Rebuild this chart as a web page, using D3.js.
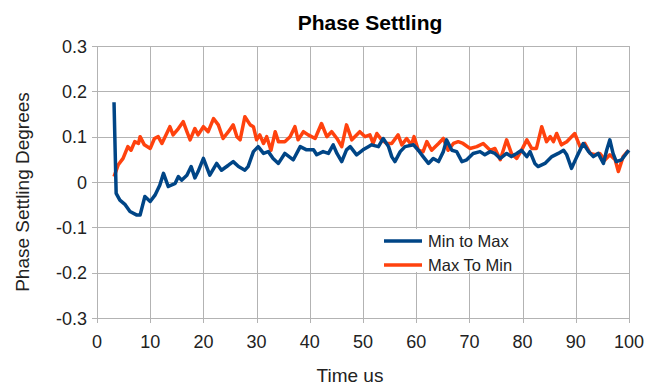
<!DOCTYPE html>
<html>
<head>
<meta charset="utf-8">
<script src="https://cdn.jsdelivr.net/npm/d3@7"></script>
<style>
  body { margin: 0; background: #fff; }
  svg { font-family: "Liberation Sans", Arial, sans-serif; }
</style>
</head>
<body>
<script>
// Min to Max series (time us, degrees)
const minToMaxT = [3.2, 3.6, 4.3, 5.3, 6.2, 7.5, 8.1, 9, 10, 10.9, 11.8, 12.5, 13.4, 14.7, 15.3, 15.9, 16.9, 17.7, 18.4, 19, 20, 21.2, 22.5, 23.4, 24.7, 25.6, 26.6, 27.8, 28.4, 29.4, 30.3, 31.3, 32.2, 33.1, 34.1, 35.3, 36.9, 38.2, 39.4, 40.7, 41.3, 42.5, 43.5, 44.4, 45.1, 46, 46.9, 47.6, 48.8, 50, 51, 51.6, 52.9, 53.8, 54.8, 55.4, 56, 57, 57.9, 59.5, 60.4, 61.3, 62.3, 63.2, 64.2, 65.1, 65.7, 66.7, 67.6, 68.6, 69.5, 70.7, 72, 72.9, 73.9, 74.8, 75.8, 77, 77.9, 78.9, 79.8, 80.8, 81.4, 82.3, 82.9, 84.2, 85.5, 86.7, 87.7, 88.3, 89.2, 90.2, 91.4, 92.4, 93.3, 94.2, 95.2, 95.8, 96.4, 97, 97.6, 98.6, 99.5, 100];
const minToMaxV = [0.176, -0.025, -0.04, -0.05, -0.065, -0.073, -0.073, -0.032, -0.043, -0.029, -0.007, 0.019, -0.01, -0.003, 0.012, 0.004, 0.015, 0.034, 0.009, 0.023, 0.052, 0.015, 0.041, 0.026, 0.037, 0.045, 0.034, 0.026, 0.034, 0.067, 0.078, 0.063, 0.067, 0.052, 0.041, 0.063, 0.049, 0.078, 0.071, 0.071, 0.06, 0.067, 0.063, 0.082, 0.063, 0.045, 0.071, 0.078, 0.06, 0.071, 0.078, 0.082, 0.078, 0.096, 0.078, 0.056, 0.045, 0.067, 0.078, 0.082, 0.07, 0.056, 0.041, 0.052, 0.045, 0.067, 0.093, 0.07, 0.067, 0.045, 0.049, 0.063, 0.067, 0.06, 0.067, 0.063, 0.052, 0.063, 0.056, 0.063, 0.07, 0.056, 0.067, 0.041, 0.034, 0.041, 0.056, 0.063, 0.07, 0.06, 0.03, 0.056, 0.085, 0.067, 0.056, 0.063, 0.041, 0.07, 0.093, 0.063, 0.045, 0.049, 0.063, 0.07];

// Max To Min series
const maxToMinT = [3.2, 4, 4.9, 5.8, 6.4, 7.1, 7.8, 8.1, 8.9, 10, 10.8, 11.5, 12.2, 13.1, 13.7, 14.3, 15.3, 16.2, 16.9, 17.5, 18.4, 19, 20, 20.9, 21.9, 22.8, 23.7, 24.7, 25.6, 26.3, 26.9, 27.8, 28.8, 29.4, 30, 30.6, 31.3, 31.9, 32.7, 33.5, 34.1, 35.3, 36.3, 37.2, 37.8, 38.8, 39.7, 41, 42.2, 43.2, 44.1, 45.1, 46, 46.9, 47.9, 49.4, 50.4, 51.3, 51.9, 52.6, 53.5, 54.5, 55.4, 56.6, 57.3, 58.2, 59.1, 59.6, 60.4, 61.3, 62, 62.9, 64.2, 65.1, 66, 67, 67.9, 68.8, 70.1, 71.4, 72.6, 73.9, 74.8, 75.8, 77, 77.9, 78.9, 79.8, 80.8, 81.7, 82.6, 83.6, 84.5, 85.2, 85.8, 86.4, 87.3, 88.3, 89.8, 90.8, 91.7, 92.7, 93.6, 94.5, 95.5, 96.4, 97.4, 98, 98.9, 99.9];
const maxToMinV = [0.012, 0.038, 0.052, 0.078, 0.07, 0.089, 0.085, 0.1, 0.082, 0.074, 0.096, 0.1, 0.085, 0.107, 0.122, 0.104, 0.118, 0.133, 0.111, 0.093, 0.118, 0.104, 0.122, 0.111, 0.14, 0.126, 0.096, 0.111, 0.126, 0.1, 0.093, 0.144, 0.126, 0.122, 0.093, 0.104, 0.085, 0.1, 0.07, 0.111, 0.089, 0.089, 0.1, 0.122, 0.093, 0.111, 0.104, 0.096, 0.129, 0.1, 0.111, 0.096, 0.078, 0.126, 0.093, 0.111, 0.1, 0.104, 0.085, 0.107, 0.093, 0.085, 0.085, 0.104, 0.082, 0.096, 0.082, 0.1, 0.07, 0.067, 0.089, 0.07, 0.085, 0.096, 0.07, 0.085, 0.089, 0.085, 0.074, 0.078, 0.085, 0.07, 0.074, 0.049, 0.093, 0.063, 0.052, 0.07, 0.093, 0.074, 0.074, 0.122, 0.089, 0.1, 0.089, 0.107, 0.082, 0.089, 0.107, 0.078, 0.085, 0.063, 0.06, 0.063, 0.049, 0.06, 0.049, 0.023, 0.056, 0.07];

const xTicks = [0, 10, 20, 30, 40, 50, 60, 70, 80, 90, 100];
const yTicks = [-0.3, -0.2, -0.1, 0, 0.1, 0.2, 0.3];
const yTickLabels = ["-0.3", "-0.2", "-0.1", "0", "0.1", "0.2", "0.3"];

const width = 652, height = 385;
const margin = { top: 46, right: 23, bottom: 67, left: 97 };

const svg = d3.select("body").append("svg")
  .attr("width", width)
  .attr("height", height);

const x = d3.scaleLinear().domain([0, 100]).range([margin.left, width - margin.right]);
const y = d3.scaleLinear().domain([-0.3, 0.3]).range([height - margin.bottom, margin.top]);

// gridlines
svg.append("g")
  .selectAll("line")
  .data(yTicks)
  .join("line")
  .attr("x1", margin.left - 5)
  .attr("x2", width - margin.right)
  .attr("y1", d => Math.round(y(d)) + 0.5)
  .attr("y2", d => Math.round(y(d)) + 0.5)
  .attr("stroke", "#b3b3b3");

svg.append("g")
  .selectAll("line")
  .data(xTicks)
  .join("line")
  .attr("x1", d => Math.round(x(d)) + 0.5)
  .attr("x2", d => Math.round(x(d)) + 0.5)
  .attr("y1", margin.top)
  .attr("y2", height - margin.bottom + 5)
  .attr("stroke", "#b3b3b3");

// tick labels
svg.append("g")
  .selectAll("text")
  .data(yTicks)
  .join("text")
  .attr("x", margin.left - 10)
  .attr("y", d => y(d) + 6.5)
  .attr("text-anchor", "end")
  .style("font-size", "18px")
  .attr("fill", "#222")
  .text((d, i) => yTickLabels[i]);

svg.append("g")
  .selectAll("text")
  .data(xTicks)
  .join("text")
  .attr("x", d => x(d))
  .attr("y", height - margin.bottom + 30)
  .attr("text-anchor", "middle")
  .style("font-size", "18px")
  .attr("fill", "#222")
  .text(d => d);

// lines
const line = d3.line()
  .x(d => x(d[0]))
  .y(d => y(d[1]));

const minData = minToMaxT.map((t, i) => [t, minToMaxV[i]]);
const maxData = maxToMinT.map((t, i) => [t, maxToMinV[i]]);

svg.append("path")
  .datum(maxData)
  .attr("d", line)
  .attr("fill", "none")
  .attr("stroke", "#ff420e")
  .attr("stroke-width", 3.5)
  .attr("stroke-linejoin", "round");

svg.append("path")
  .datum(minData)
  .attr("d", line)
  .attr("fill", "none")
  .attr("stroke", "#004586")
  .attr("stroke-width", 3.5)
  .attr("stroke-linejoin", "round");

// title + axis titles
svg.append("text")
  .attr("x", 370)
  .attr("y", 30)
  .attr("text-anchor", "middle")
  .style("font-size", "21px")
  .style("font-weight", "bold")
  .text("Phase Settling");

svg.append("text")
  .attr("x", 350)
  .attr("y", 382)
  .attr("text-anchor", "middle")
  .style("font-size", "19px")
  .attr("fill", "#222")
  .text("Time us");

svg.append("text")
  .attr("transform", "translate(29,192) rotate(-90)")
  .attr("text-anchor", "middle")
  .style("font-size", "19px")
  .attr("fill", "#222")
  .text("Phase Settling Degrees");

// legend
const legendNames = ["Min to Max", "Max To Min"];
const legendColors = ["#004586", "#ff420e"];
const legend = svg.append("g");
legend.append("rect")
  .attr("x", 376).attr("y", 229)
  .attr("width", 146).attr("height", 43)
  .attr("fill", "#fff");
legendNames.forEach((name, i) => {
  const ly = 241 + i * 24;
  legend.append("line")
    .attr("x1", 384).attr("x2", 422)
    .attr("y1", ly).attr("y2", ly)
    .attr("stroke", legendColors[i])
    .attr("stroke-width", 3.5);
  legend.append("text")
    .attr("x", 428).attr("y", ly + 6)
    .style("font-size", "16.5px")
    .attr("fill", "#222")
    .text(name);
});
</script>
</body>
</html>
